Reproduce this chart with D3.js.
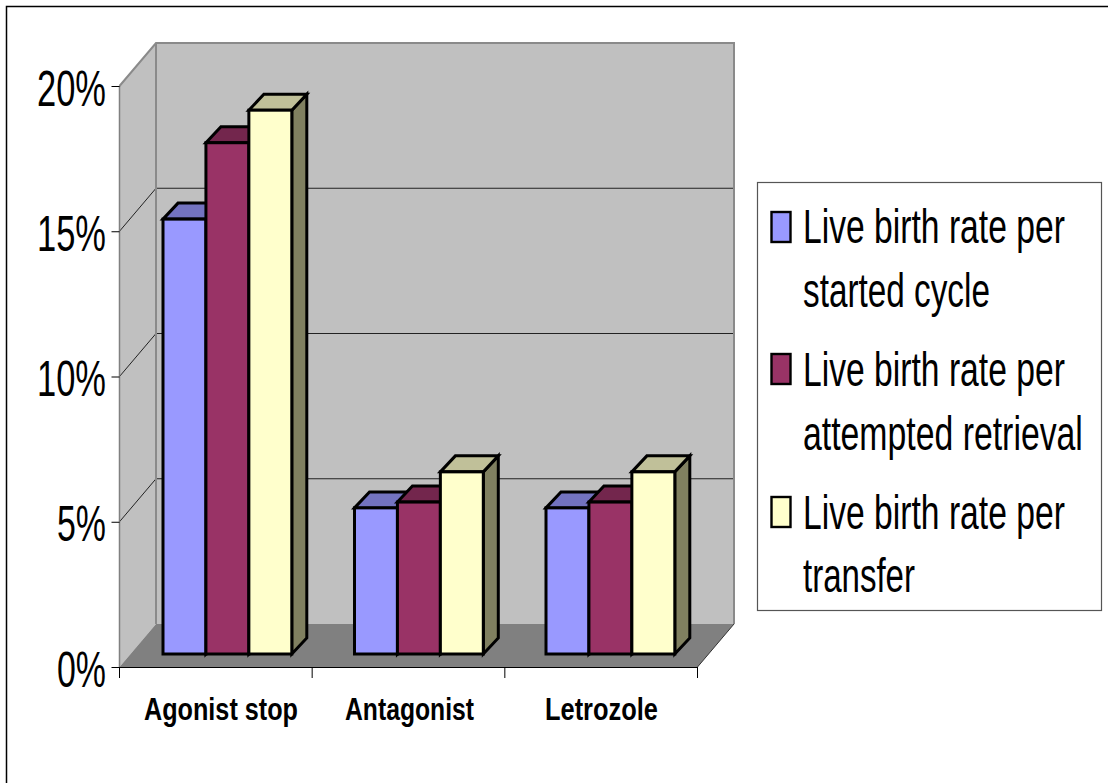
<!DOCTYPE html>
<html>
<head>
<meta charset="utf-8">
<script src="https://cdn.jsdelivr.net/npm/d3@7"></script>
<style>
html,body{margin:0;padding:0;background:#fff;overflow:hidden;}
svg{display:block;}
text{font-family:"Liberation Sans",Arial,sans-serif;fill:#000;}
</style>
</head>
<body>
<svg id="chart" width="1108" height="783"></svg>
<script>
const categories = ["Agonist stop", "Antagonist", "Letrozole"];
const seriesNames = ["started", "attempted", "transfer"];
const startedCycle = [14.97, 5.03, 5.03];
const attemptedRetrieval = [17.6, 5.23, 5.23];
const perTransfer = [18.72, 6.27, 6.27];
const yTicks = [0, 5, 10, 15, 20];
const legendLines = [
  ["Live birth rate per", "started cycle"],
  ["Live birth rate per", "attempted retrieval"],
  ["Live birth rate per", "transfer"]
];
const faceColors = ["#9999FF", "#993366", "#FFFFCC"];
const topColors = ["#7373C0", "#73264D", "#C0C099"];
const sideColors = ["#60609F", "#60203F", "#808060"];

const svg = d3.select("#chart");
const values = [startedCycle, attemptedRetrieval, perTransfer];

// squeeze a text horizontally to a given width, with its left edge at px
function fit(sel, px, py, width) {
  const len = sel.node().getComputedTextLength();
  sel.attr("x", 0).attr("y", 0).attr("dy", 0).attr("text-anchor", "start")
    .attr("transform", `translate(${px},${py}) scale(${width / len},1)`);
}

// frame (left and top edges only are visible)
svg.append("path").attr("d", "M6.5,783V6.5H1108").attr("fill", "none").attr("stroke", "#000").attr("stroke-width", 1.5);

const x0 = 119.5, x1 = 697.5, y0 = 667, y20 = 86, dx = 36.5, dy = -43;
const y = d3.scaleLinear().domain([0, 20]).range([y0, y20]);
const x = d3.scaleBand().domain(categories).range([x0, x1]);
const barGroups = d3.scaleBand().domain(categories).range([163, 163 + 3 * 191.5]);
const inner = d3.scaleBand().domain(seriesNames).range([0, 128.8]);

// walls and floor
const line = d3.line();
svg.append("path").attr("d", line([[x0, y0], [x0 + dx, y0 + dy], [x0 + dx, y20 + dy], [x0, y20]]) + "Z").attr("fill", "#C0C0C0");
svg.append("path").attr("d", line([[x0 + dx, y0 + dy], [x1 + dx, y0 + dy], [x1 + dx, y20 + dy], [x0 + dx, y20 + dy]]) + "Z").attr("fill", "#C0C0C0");
svg.append("path").attr("d", line([[x0, y0], [x0 + dx, y0 + dy], [x1 + dx, y0 + dy], [x1, y0]]) + "Z").attr("fill", "#808080");

// gridlines
yTicks.slice(1, -1).forEach(t => {
  svg.append("path").attr("d", line([[x0, y(t)], [x0 + dx, y(t) + dy], [x1 + dx, y(t) + dy]]))
    .attr("fill", "none").attr("stroke", "#222").attr("stroke-width", 1);
});
// wall edges
svg.append("path").attr("d", line([[x0, y20], [x0 + dx, y20 + dy], [x1 + dx, y20 + dy], [x1 + dx, y0 + dy]]))
  .attr("fill", "none").attr("stroke", "#8a8a8a").attr("stroke-width", 2);
svg.append("path").attr("d", line([[x0 + dx, y20 + dy], [x0 + dx, y0 + dy]]))
  .attr("fill", "none").attr("stroke", "#8a8a8a").attr("stroke-width", 2);
svg.append("path").attr("d", line([[x0, y20], [x0, y0]]))
  .attr("fill", "none").attr("stroke", "#808080").attr("stroke-width", 1.5);
svg.append("path").attr("d", line([[x1, y0], [x1 + dx, y0 + dy]]))
  .attr("fill", "none").attr("stroke", "#333").attr("stroke-width", 1);

// bars
const barLift = 13, barDx = 15, barDy = -16;
const barY = v => y(v) - barLift;
const bars = svg.append("g").attr("stroke", "#000").attr("stroke-width", 3).attr("stroke-linejoin", "miter");
categories.forEach((c, ci) => {
  seriesNames.forEach((s, si) => {
    const v = values[si][ci];
    const l = barGroups(c) + inner(s), r = l + inner.bandwidth(), t = barY(v), b = barY(0);
    const g = bars.append("g");
    g.append("path").attr("d", line([[r, t], [r + barDx, t + barDy], [r + barDx, b + barDy], [r, b]]) + "Z").attr("fill", sideColors[si]);
    g.append("path").attr("d", line([[l, t], [l + barDx, t + barDy], [r + barDx, t + barDy], [r, t]]) + "Z").attr("fill", topColors[si]);
    g.append("rect").attr("x", l).attr("y", t).attr("width", r - l).attr("height", b - t).attr("fill", faceColors[si]);
  });
});

// y axis
const yAxis = svg.append("g").attr("transform", `translate(${x0},0)`)
  .call(d3.axisLeft(y).tickValues(yTicks).tickSize(8).tickSizeOuter(0).tickFormat(d => d + "%"));
yAxis.select(".domain").remove();
yAxis.selectAll(".tick line").attr("stroke", "#000").attr("stroke-width", 1);
yAxis.selectAll(".tick text").each(function(d) {
  const w = d >= 10 ? 69 : 49;
  const sel = d3.select(this).attr("font-size", 50);
  fit(sel, -13.5 - w, 19, w);
});

// x axis
const xAxis = svg.append("g").attr("transform", `translate(0,${y0})`);
xAxis.call(d3.axisBottom(x).tickSize(0).tickSizeOuter(0));
xAxis.select(".domain").attr("stroke", "#000").attr("stroke-width", 1.2);
const catWidths = [154, 129, 113];
const catLefts = [144, 345, 545];
xAxis.selectAll(".tick").attr("transform", null);
xAxis.selectAll(".tick text").each(function(d, i) {
  const sel = d3.select(this).attr("font-size", 32).attr("font-weight", "bold");
  fit(sel, catLefts[i], 53, catWidths[i]);
});
[...x.domain().map(c => x(c)), x1].forEach(px => {
  xAxis.append("line").attr("x1", px).attr("x2", px).attr("y1", 0).attr("y2", 11).attr("stroke", "#000").attr("stroke-width", 1);
});

// legend
const legend = svg.append("g");
legend.append("rect").attr("x", 757.5).attr("y", 182.5).attr("width", 344).attr("height", 428)
  .attr("fill", "#fff").attr("stroke", "#555").attr("stroke-width", 1.2);
const lineWidths = [[262, 187], [262, 280], [262, 112]];
const baselines = [[243, 307], [386, 450], [529, 592]];
const swatchTops = [212, 354, 497];
legendLines.forEach((lines, i) => {
  legend.append("rect").attr("x", 771.5).attr("y", swatchTops[i]).attr("width", 19).attr("height", 30)
    .attr("fill", faceColors[i]).attr("stroke", "#000").attr("stroke-width", 2.4);
  lines.forEach((txt, j) => {
    const sel = legend.append("text").attr("font-size", 49).text(txt);
    fit(sel, 803, baselines[i][j], lineWidths[i][j]);
  });
});
</script>
</body>
</html>
